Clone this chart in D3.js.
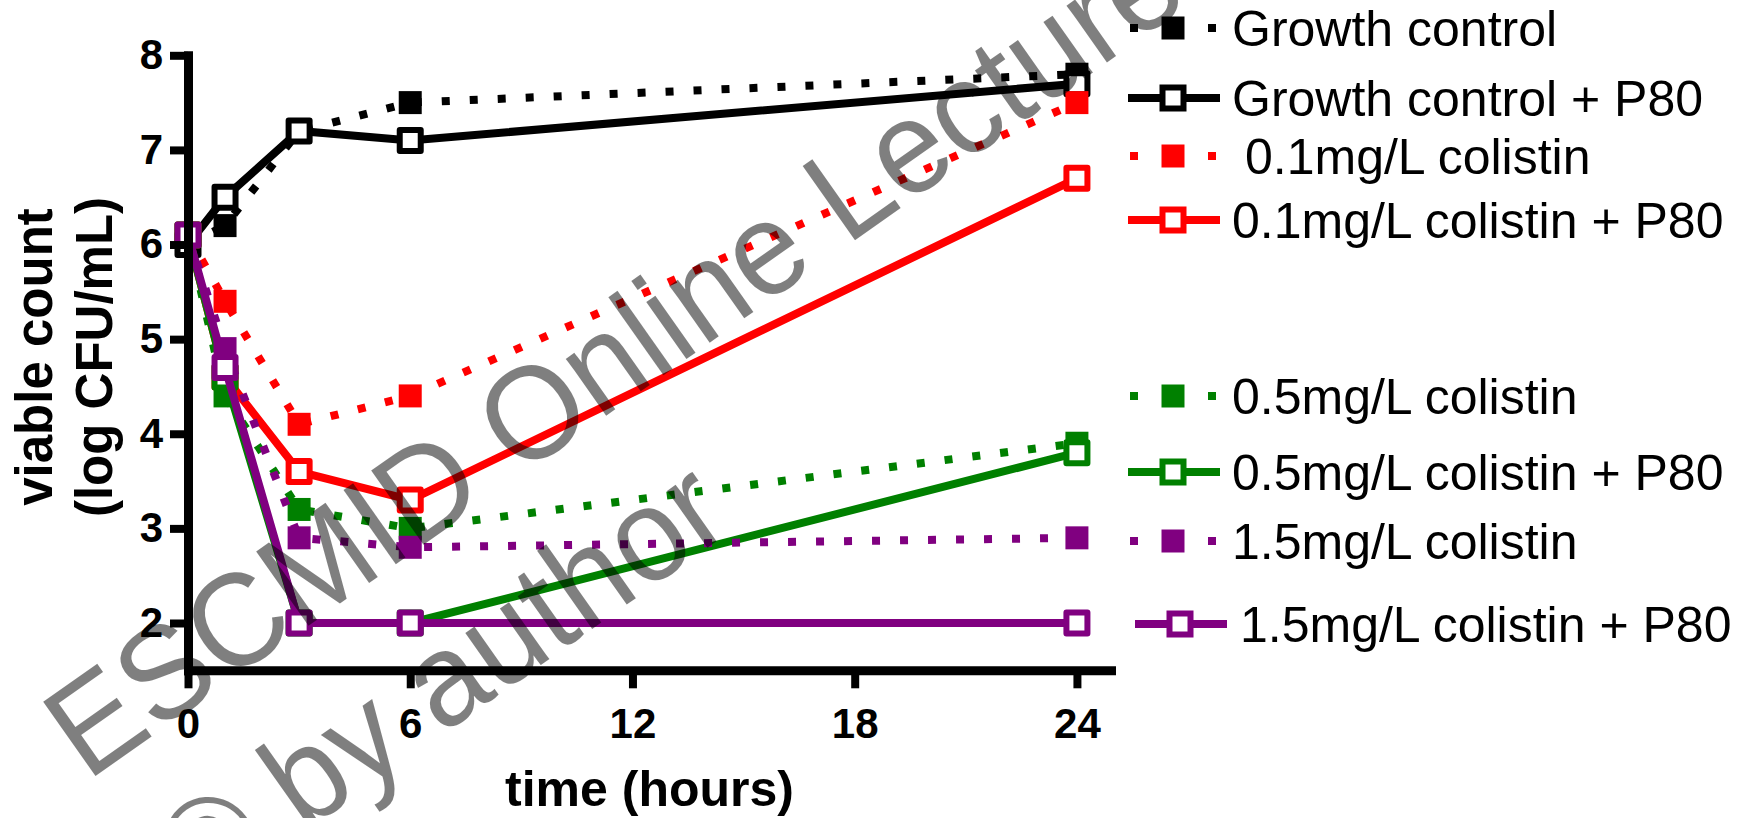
<!DOCTYPE html>
<html>
<head>
<meta charset="utf-8">
<script src="https://cdn.jsdelivr.net/npm/d3@7"></script>
<style>
  body { margin: 0; background: #ffffff; }
  svg { display: block; }
</style>
</head>
<body>
<svg id="chart" width="1748" height="818"></svg>
<script>
// ---------------- DATA ----------------
const times = [0, 1, 3, 6, 24];
const seriesNames = [
  "Growth control",
  "Growth control + P80",
  "0.1mg/L colistin",
  "0.1mg/L colistin + P80",
  "0.5mg/L colistin",
  "0.5mg/L colistin + P80",
  "1.5mg/L colistin",
  "1.5mg/L colistin + P80"
];
const growthControl    = [6.0, 6.2, 7.2, 7.5, 7.8];
const growthControlP80 = [6.0, 6.5, 7.2, 7.1, 7.7];
const colistin01       = [6.1, 5.4, 4.1, 4.4, 7.5];
const colistin01P80    = [6.1, 4.6, 3.6, 3.3, 6.7];
const colistin05       = [6.1, 4.4, 3.2, 3.0, 3.9];
const colistin05P80    = [6.1, 4.6, 2.0, 2.0, 3.8];
const colistin15       = [6.1, 4.9, 2.9, 2.8, 2.9];
const colistin15P80    = [6.1, 4.7, 2.0, 2.0, 2.0];
const xTicks = [0, 6, 12, 18, 24];
const yTicks = [2, 3, 4, 5, 6, 7, 8];
const xTitle = "time (hours)";
const yTitle = ["viable count", "(log CFU/mL)"];
const watermark = ["ESCMID Online Lecture Library", "\u00A9 by author"];

// ---------------- STYLE / LAYOUT ----------------
const FONT = "'Liberation Sans', Arial, Helvetica, sans-serif";
const valueSets = [growthControl, growthControlP80, colistin01, colistin01P80,
                   colistin05, colistin05P80, colistin15, colistin15P80];
const colors = ["#000000", "#000000", "#ff0000", "#ff0000",
                "#008000", "#008000", "#800080", "#800080"];
const series = seriesNames.map((name, i) => ({
  name,
  values: valueSets[i].map((v, j) => ({ t: times[j], v })),
  color: colors[i],
  filled: i % 2 === 0
}));

const svg = d3.select("#chart");
const x = d3.scaleLinear().domain([0, 24.92]).range([188, 1111]);
const y = d3.scaleLinear().domain([1.5, 8]).range([670.3, 55.3]);

const FILLED_SIZE = 23 * 23;
const OPEN_SIZE = 21 * 21;
const OPEN_STROKE = 6;
const DOT_DASH = "8 20";

// ---------------- SERIES ----------------
const line = d3.line().x(d => x(d.t)).y(d => y(d.v));
const plot = svg.append("g");
series.forEach(s => {
  const g = plot.append("g");
  g.append("path")
    .datum(s.values)
    .attr("d", line)
    .attr("fill", "none")
    .attr("stroke", s.color)
    .attr("stroke-width", 8)
    .attr("stroke-linecap", "butt")
    .attr("stroke-dasharray", s.filled ? DOT_DASH : null);
  g.selectAll("path.pt")
    .data(s.values)
    .join("path")
    .attr("class", "pt")
    .attr("transform", d => `translate(${x(d.t)},${y(d.v)})`)
    .attr("d", d3.symbol(d3.symbolSquare, s.filled ? FILLED_SIZE : OPEN_SIZE)())
    .attr("fill", s.filled ? s.color : "#ffffff")
    .attr("stroke", s.filled ? "none" : s.color)
    .attr("stroke-width", s.filled ? 0 : OPEN_STROKE)
    .attr("stroke-linejoin", "round");
});

// ---------------- AXES ----------------
const xAxis = svg.append("g")
  .attr("transform", `translate(0,${y(1.5)})`)
  .call(d3.axisBottom(x).tickValues(xTicks).tickFormat(d3.format("d"))
        .tickSize(18).tickPadding(20).tickSizeOuter(0));
const yAxis = svg.append("g")
  .attr("transform", `translate(${x(0)},0)`)
  .call(d3.axisLeft(y).tickValues(yTicks).tickFormat(d3.format("d"))
        .tickSize(18).tickPadding(7).tickSizeOuter(0));
[xAxis, yAxis].forEach(a => {
  a.attr("font-family", FONT).attr("font-size", 42).attr("font-weight", "bold");
  a.select(".domain").attr("stroke", "#000").attr("stroke-width", 9).attr("stroke-linecap", "square");
  a.selectAll(".tick line").attr("stroke", "#000").attr("stroke-width", 8);
  a.selectAll(".tick text").attr("fill", "#000");
});

// axis titles
svg.append("text")
  .attr("x", (x.range()[0] + x.range()[1]) / 2)
  .attr("y", 806)
  .attr("text-anchor", "middle")
  .attr("font-family", FONT).attr("font-size", 50).attr("font-weight", "bold")
  .text(xTitle);
const yTitleBaselines = [52, 112];
yTitle.forEach((t, i) => {
  svg.append("text")
    .attr("transform", `translate(${yTitleBaselines[i]},357) rotate(-90)`)
    .attr("text-anchor", "middle")
    .attr("font-family", FONT).attr("font-size", 51).attr("font-weight", "bold")
    .text(t);
});

// ---------------- LEGEND ----------------
const legendY = [28, 98, 156, 220, 396, 472, 541, 624];
const legendShift = [0, 0, 0, 0, 0, 0, 0, 7];
const legendTextX = [1232, 1232, 1245, 1232, 1232, 1232, 1232, 1240];
const legend = svg.append("g");
series.forEach((s, i) => {
  const g = legend.append("g").attr("transform", `translate(${legendShift[i]},${legendY[i]})`);
  if (s.filled) {
    g.append("line").attr("x1", 1130).attr("x2", 1216).attr("y1", 0).attr("y2", 0)
      .attr("stroke", s.color).attr("stroke-width", 8).attr("stroke-dasharray", "8 31");
  } else {
    g.append("line").attr("x1", 1128).attr("x2", 1220).attr("y1", 0).attr("y2", 0)
      .attr("stroke", s.color).attr("stroke-width", 8);
  }
  g.append("path")
    .attr("transform", "translate(1173,0)")
    .attr("d", d3.symbol(d3.symbolSquare, s.filled ? FILLED_SIZE : OPEN_SIZE)())
    .attr("fill", s.filled ? s.color : "#ffffff")
    .attr("stroke", s.filled ? "none" : s.color)
    .attr("stroke-width", s.filled ? 0 : OPEN_STROKE);
  svg.append("text")
    .attr("x", legendTextX[i])
    .attr("y", legendY[i])
    .attr("dy", "0.36em")
    .attr("font-family", FONT).attr("font-size", 50)
    .attr("fill", "#000")
    .text(s.name);
});

// ---------------- WATERMARK ----------------
const wm = svg.append("g").attr("fill", "#000").attr("fill-opacity", 0.5)
  .attr("font-family", FONT).attr("font-size", 132);
wm.append("text")
  .attr("transform", "translate(87,782) rotate(-35.2) scale(0.96,1)")
  .text(watermark[0]);
wm.append("text")
  .attr("transform", "translate(198,907) rotate(-35.2) scale(0.96,1)")
  .text(watermark[1]);
</script>
</body>
</html>
